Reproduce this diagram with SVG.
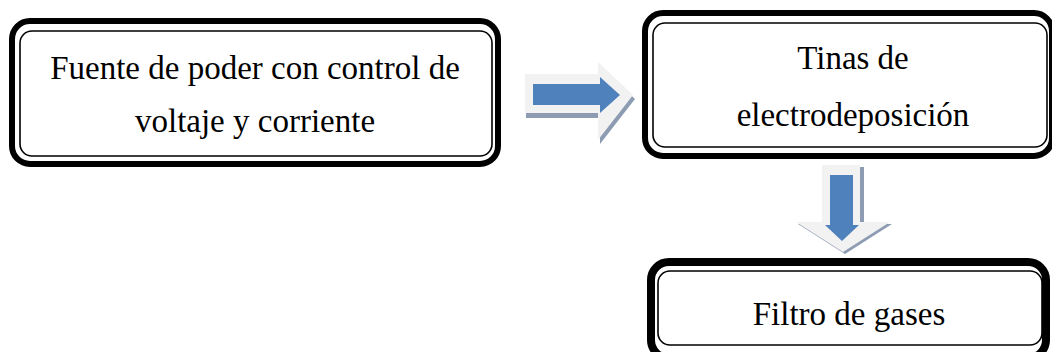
<svg xmlns="http://www.w3.org/2000/svg" width="1052" height="352" viewBox="0 0 1052 352">
<style>
.outer{fill:#fff;stroke:#000;stroke-width:6}
.inner{fill:none;stroke:#000;stroke-width:1.6}
.t{font-family:"Liberation Serif","Times New Roman",serif;font-size:33px;fill:#000;text-anchor:middle}
.sh{fill:#8e9cb3}
.lt{fill:#f2f2f2}
.bl{fill:#4f81bd}
</style>
<rect width="1052" height="352" fill="#fff"/>
<g id="fuente">
<rect class="outer" x="12" y="21" width="486" height="143" rx="18"/>
<rect class="inner" x="20" y="31" width="472" height="125" rx="12"/>
<text class="t" x="255" y="79">Fuente de poder con control de</text>
<text class="t" x="255" y="132">voltaje y corriente</text>
</g>
<g id="tinas">
<rect class="outer" x="645" y="13" width="407" height="143" rx="18"/>
<rect class="inner" x="653" y="23" width="394" height="124" rx="12"/>
<text class="t" x="853" y="69">Tinas de</text>
<text class="t" x="853" y="126">electrodeposición</text>
</g>
<g id="filtro">
<rect class="outer" x="651" y="262" width="395" height="96" rx="18" style="stroke-width:8"/>
<rect class="inner" x="658" y="271" width="384" height="74" rx="12"/>
<text class="t" x="849" y="325">Filtro de gases</text>
</g>
<g id="connectors">
<g id="arrow-right">
<polygon class="sh" points="526,78 600,78 600,66 635,99 600,144 600,118 526,118"/>
<polygon class="lt" points="525,74 598,74 598,62 633,95 598,140 598,113 525,113"/>
<polygon class="bl" points="533,84 600,84 600,77 620,95 600,113 600,105 533,105"/>
</g>
<g id="arrow-down">
<polygon class="sh" points="825,167 864,167 864,224 892,224 845,254 798,224 825,224"/>
<polygon class="lt" points="822,165 860,165 860,222 890,222 843,252 796,222 822,222"/>
<polygon class="bl" points="830,175 853,175 853,225 859,225 842,241 825,225 830,225"/>
</g>
</g>
</svg>
